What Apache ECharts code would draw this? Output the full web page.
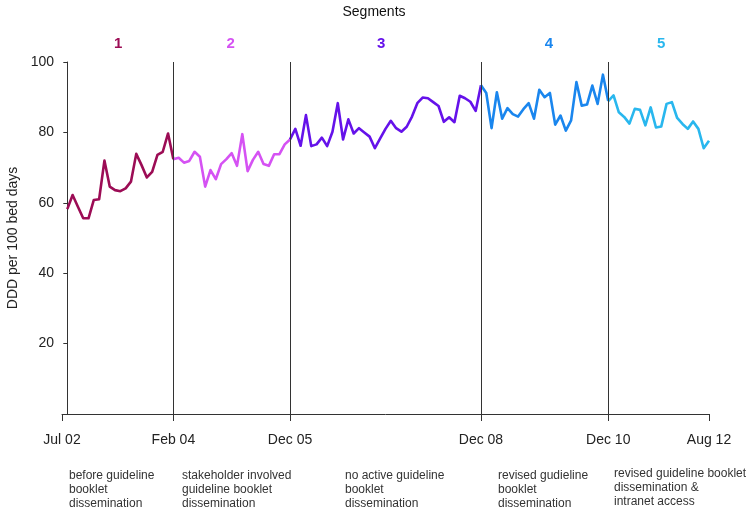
<!DOCTYPE html>
<html><head><meta charset="utf-8">
<script src="https://cdn.jsdelivr.net/npm/echarts@6/dist/echarts.min.js"></script>
<style>html,body{margin:0;padding:0;background:#fff}#c{width:748px;height:511px}</style>
</head><body><div id="c"></div>
<script>
// Segment values (DDD per 100 bed days); neighbouring segments share their boundary point
const seg1 = [58.2, 62.2, 58.9, 55.6, 55.6, 60.8, 61.0, 72.0, 64.6, 63.6, 63.3, 64.1, 66.0, 73.9, 70.7, 67.2, 68.8, 73.6, 74.5, 79.7, 72.4];
const seg2 = [72.4, 72.8, 71.4, 71.9, 74.5, 73.1, 64.6, 69.3, 66.7, 71.0, 72.4, 74.1, 70.5, 79.5, 69.0, 72.2, 74.5, 71.0, 70.5, 73.8, 73.8, 76.6, 78.0];
const seg3 = [78.0, 81.0, 76.2, 84.9, 76.1, 76.6, 78.5, 76.1, 80.2, 88.3, 78.0, 83.7, 79.7, 81.2, 80.0, 78.8, 75.5, 78.3, 81.0, 83.3, 81.2, 80.2, 81.6, 84.5, 88.3, 89.9, 89.7, 88.6, 87.5, 83.0, 84.3, 82.9, 90.4, 89.7, 88.7, 86.1, 93.4];
const seg4 = [93.4, 91.2, 81.2, 91.4, 83.9, 86.9, 85.2, 84.5, 86.6, 88.3, 83.9, 92.1, 90.0, 91.2, 82.2, 84.8, 80.5, 83.4, 94.3, 87.6, 87.9, 93.3, 88.1, 96.4, 88.9];
const seg5 = [88.9, 90.5, 85.7, 84.4, 82.5, 86.7, 86.4, 82.0, 87.1, 81.4, 81.7, 88.1, 88.6, 84.1, 82.4, 81.0, 83.1, 81.0, 75.5, 77.6];
const segStarts = [0, 20, 42, 78, 102];
const segNames = ['1', '2', '3', '4', '5'];
const segLabelPos = [9.6, 30.8, 59.2, 90.8, 112];
const boundaries = [20, 42, 78, 102];
const tickValues = [-1, 20, 42, 78, 102, 121];
const tickLabels = ['Jul 02', 'Feb 04', 'Dec 05', 'Dec 08', 'Dec 10', 'Aug 12'];
const descriptions = [
  ['before guideline', 'booklet', 'dissemination'],
  ['stakeholder involved', 'guideline booklet', 'dissemination'],
  ['no active guideline', 'booklet', 'dissemination'],
  ['revised gudieline', 'booklet', 'dissemination'],
  ['revised guideline booklet', 'dissemination &', 'intranet access']
];

const segColors = ['#9c0c55', '#d552f3', '#6512ea', '#1a86ee', '#29b7ee'];
const descLeft = [69, 182, 345, 498, 614];
const descTop = [469, 469, 469, 469, 467];
const FONT = 'Liberation Sans, Arial, sans-serif';

const segs = [seg1, seg2, seg3, seg4, seg5];
const series = segs.map((vals, i) => ({
  type: 'line',
  data: vals.map((v, k) => [segStarts[i] + k, v]),
  showSymbol: false,
  symbol: 'none',
  lineStyle: { color: segColors[i], width: 2.6, join: 'round' },
  itemStyle: { color: segColors[i] },
  silent: true,
  z: 3
}));
series[0].markLine = {
  silent: true, symbol: 'none', animation: false,
  label: { show: false },
  lineStyle: { color: '#333', width: 1, type: 'solid' },
  data: boundaries.map(b => ({ xAxis: b }))
};

const rich = {};
segNames.forEach((n, i) => { rich['s' + i] = { color: segColors[i], fontSize: 15, fontWeight: 'bold', fontFamily: FONT }; });

const graphics = [];
descriptions.forEach((lines, i) => {
  graphics.push({
    type: 'text', left: descLeft[i], top: descTop[i], silent: true,
    style: { text: lines.join('\n'), fill: '#333', font: '12px ' + FONT, lineHeight: 14 }
  });
});

const chart = echarts.init(document.getElementById('c'), null, { renderer: 'canvas' });
chart.setOption({
  animation: false,
  backgroundColor: '#fff',
  title: { text: 'Segments', left: 'center', top: 0, textStyle: { fontSize: 14, fontWeight: 'normal', color: '#111', fontFamily: FONT } },
  grid: { left: 62, right: 39, top: 62, bottom: 97, containLabel: false, outerBoundsMode: 'none' },
  xAxis: [{
    type: 'value', min: -1, max: 121, position: 'bottom',
    axisLine: { show: true, lineStyle: { color: '#333', width: 1 } },
    axisTick: { show: true, length: 7, customValues: tickValues, lineStyle: { color: '#333' } },
    axisLabel: {
      customValues: tickValues, margin: 19, fontSize: 14, color: '#222', fontFamily: FONT,
      formatter: v => { const i = tickValues.indexOf(v); return i >= 0 ? tickLabels[i] : ''; }
    },
    splitLine: { show: false }
  }, {
    type: 'value', min: -1, max: 121, position: 'top',
    axisLine: { show: false }, axisTick: { show: false }, splitLine: { show: false },
    axisLabel: {
      customValues: segLabelPos, margin: 11, rich: rich,
      formatter: v => { const i = segLabelPos.indexOf(v); return i >= 0 ? '{s' + i + '|' + segNames[i] + '}' : ''; }
    }
  }],
  yAxis: {
    type: 'value', min: 0, max: 100, interval: 20,
    name: 'DDD per 100 bed days', nameLocation: 'middle', nameGap: 38,
    nameTextStyle: { fontSize: 14, color: '#222', fontFamily: FONT },
    axisLine: { show: true, lineStyle: { color: '#333', width: 1 } },
    axisTick: { show: true, length: 4, lineStyle: { color: '#333' } },
    axisLabel: { fontSize: 14, color: '#222', margin: 8, fontFamily: FONT, showMinLabel: false, formatter: v => v === 0 ? '' : String(v) },
    splitLine: { show: false }
  },
  graphic: graphics,
  series: series
});
</script>
</body></html>
